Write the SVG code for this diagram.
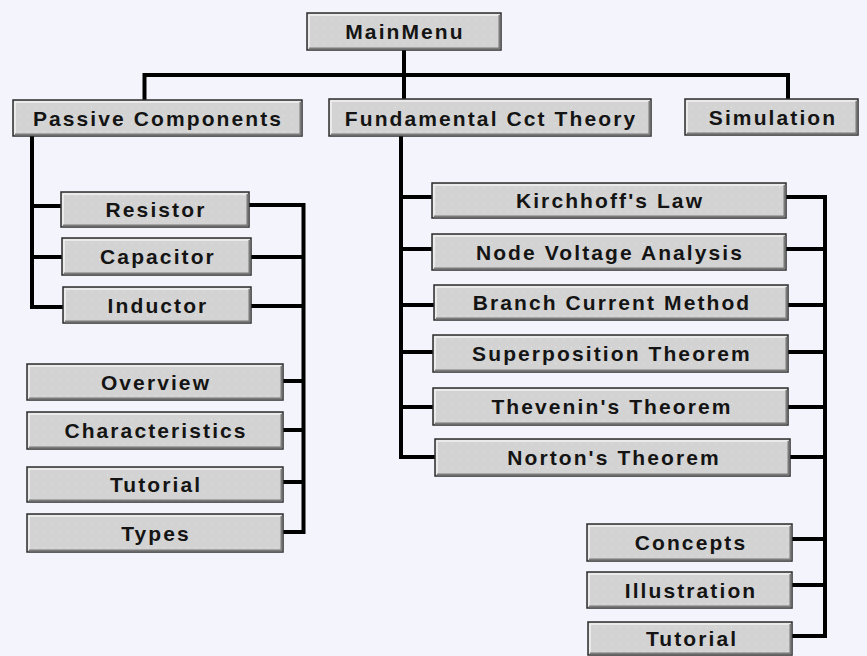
<svg xmlns="http://www.w3.org/2000/svg" width="867" height="656" viewBox="0 0 867 656">
<defs>
<pattern id="dots" width="8" height="8" patternUnits="userSpaceOnUse">
<rect width="8" height="8" fill="#d3d3d3"/>
<rect x="3" y="3" width="1" height="1" fill="#e6e6e6"/>
</pattern>
</defs>
<style>
.box{fill:url(#dots);stroke:#2c2c2c;stroke-width:1.5}
.hl{fill:none;stroke:#f2f2f2;stroke-width:1.5}
.sh{fill:none;stroke:#7a7a7a;stroke-width:2}
.lbl{font-family:"Liberation Sans",Arial,sans-serif;font-weight:bold;font-size:21px;letter-spacing:2.1px;fill:#141414;text-anchor:middle}
.wire{fill:none;stroke:#000;stroke-width:4;stroke-linejoin:miter;stroke-linecap:square}
</style>
<rect width="867" height="656" fill="#f4f4fc"/>
<g id="connectors">
<path class="wire" d="M404 50 V99"/>
<path class="wire" d="M144.5 99 V75 H788 V99"/>
<path class="wire" d="M32 136 V307 H62 M32 206 H60 M32 257 H61"/>
<path class="wire" d="M250 205 H303.5 V532 H284 M252 257 H303 M252 306 H303 M284 381 H303 M284 430 H303 M284 482 H303"/>
<path class="wire" d="M401 137 V457 H434 M401 197 H431 M401 249 H431 M401 305 H433 M401 352 H432 M401 407 H432"/>
<path class="wire" d="M787 197 H825 V636 H793 M787 249 H825 M789 305 H825 M789 352 H825 M789 407 H825 M791 457 H825 M793 539 H825 M793 585 H825"/>
</g>
<g id="n-mainmenu"><rect class="box" x="307" y="13" width="194" height="37"/><path class="hl" d="M309 48 V15 H499"/><path class="sh" d="M309 48.5 H499.5 V15"/><text class="lbl" x="405" y="39">MainMenu</text></g>
<g id="n-passive"><rect class="box" x="13" y="100" width="289" height="36"/><path class="hl" d="M15 134 V102 H300"/><path class="sh" d="M15 134.5 H300.5 V102"/><text class="lbl" x="158" y="126">Passive Components</text></g>
<g id="n-fundamental"><rect class="box" x="329" y="99" width="322" height="37"/><path class="hl" d="M331 134 V101 H649"/><path class="sh" d="M331 134.5 H649.5 V101"/><text class="lbl" x="491" y="126">Fundamental Cct Theory</text></g>
<g id="n-simulation"><rect class="box" x="685" y="99" width="173" height="36"/><path class="hl" d="M687 133 V101 H856"/><path class="sh" d="M687 133.5 H856.5 V101"/><text class="lbl" x="773" y="125">Simulation</text></g>
<g id="n-resistor"><rect class="box" x="61" y="192" width="188" height="35"/><path class="hl" d="M63 225 V194 H247"/><path class="sh" d="M63 225.5 H247.5 V194"/><text class="lbl" x="156" y="217">Resistor</text></g>
<g id="n-capacitor"><rect class="box" x="62" y="238" width="189" height="37"/><path class="hl" d="M64 273 V240 H249"/><path class="sh" d="M64 273.5 H249.5 V240"/><text class="lbl" x="158" y="264">Capacitor</text></g>
<g id="n-inductor"><rect class="box" x="63" y="287" width="188" height="36"/><path class="hl" d="M65 321 V289 H249"/><path class="sh" d="M65 321.5 H249.5 V289"/><text class="lbl" x="158" y="313">Inductor</text></g>
<g id="n-overview"><rect class="box" x="27" y="364" width="256" height="36"/><path class="hl" d="M29 398 V366 H281"/><path class="sh" d="M29 398.5 H281.5 V366"/><text class="lbl" x="156" y="390">Overview</text></g>
<g id="n-characteristics"><rect class="box" x="27" y="412" width="256" height="37"/><path class="hl" d="M29 447 V414 H281"/><path class="sh" d="M29 447.5 H281.5 V414"/><text class="lbl" x="156" y="438">Characteristics</text></g>
<g id="n-tutorial1"><rect class="box" x="27" y="467" width="256" height="35"/><path class="hl" d="M29 500 V469 H281"/><path class="sh" d="M29 500.5 H281.5 V469"/><text class="lbl" x="156" y="492">Tutorial</text></g>
<g id="n-types"><rect class="box" x="27" y="514" width="256" height="38"/><path class="hl" d="M29 550 V516 H281"/><path class="sh" d="M29 550.5 H281.5 V516"/><text class="lbl" x="156" y="541">Types</text></g>
<g id="n-kirchhoff"><rect class="box" x="432" y="183" width="354" height="35"/><path class="hl" d="M434 216 V185 H784"/><path class="sh" d="M434 216.5 H784.5 V185"/><text class="lbl" x="610" y="208">Kirchhoff's Law</text></g>
<g id="n-nodevoltage"><rect class="box" x="432" y="234" width="354" height="36"/><path class="hl" d="M434 268 V236 H784"/><path class="sh" d="M434 268.5 H784.5 V236"/><text class="lbl" x="610" y="260">Node Voltage Analysis</text></g>
<g id="n-branch"><rect class="box" x="434" y="285" width="354" height="35"/><path class="hl" d="M436 318 V287 H786"/><path class="sh" d="M436 318.5 H786.5 V287"/><text class="lbl" x="612" y="310">Branch Current Method</text></g>
<g id="n-superposition"><rect class="box" x="433" y="335" width="355" height="37"/><path class="hl" d="M435 370 V337 H786"/><path class="sh" d="M435 370.5 H786.5 V337"/><text class="lbl" x="612" y="361">Superposition Theorem</text></g>
<g id="n-thevenin"><rect class="box" x="433" y="388" width="355" height="37"/><path class="hl" d="M435 423 V390 H786"/><path class="sh" d="M435 423.5 H786.5 V390"/><text class="lbl" x="612" y="414">Thevenin's Theorem</text></g>
<g id="n-norton"><rect class="box" x="435" y="439" width="355" height="37"/><path class="hl" d="M437 474 V441 H788"/><path class="sh" d="M437 474.5 H788.5 V441"/><text class="lbl" x="614" y="465">Norton's Theorem</text></g>
<g id="n-concepts"><rect class="box" x="587" y="524" width="205" height="37"/><path class="hl" d="M589 559 V526 H790"/><path class="sh" d="M589 559.5 H790.5 V526"/><text class="lbl" x="691" y="550">Concepts</text></g>
<g id="n-illustration"><rect class="box" x="587" y="572" width="205" height="36"/><path class="hl" d="M589 606 V574 H790"/><path class="sh" d="M589 606.5 H790.5 V574"/><text class="lbl" x="691" y="598">Illustration</text></g>
<g id="n-tutorial2"><rect class="box" x="588" y="622" width="204" height="33"/><path class="hl" d="M590 653 V624 H790"/><path class="sh" d="M590 653.5 H790.5 V624"/><text class="lbl" x="692" y="646">Tutorial</text></g>
</svg>
